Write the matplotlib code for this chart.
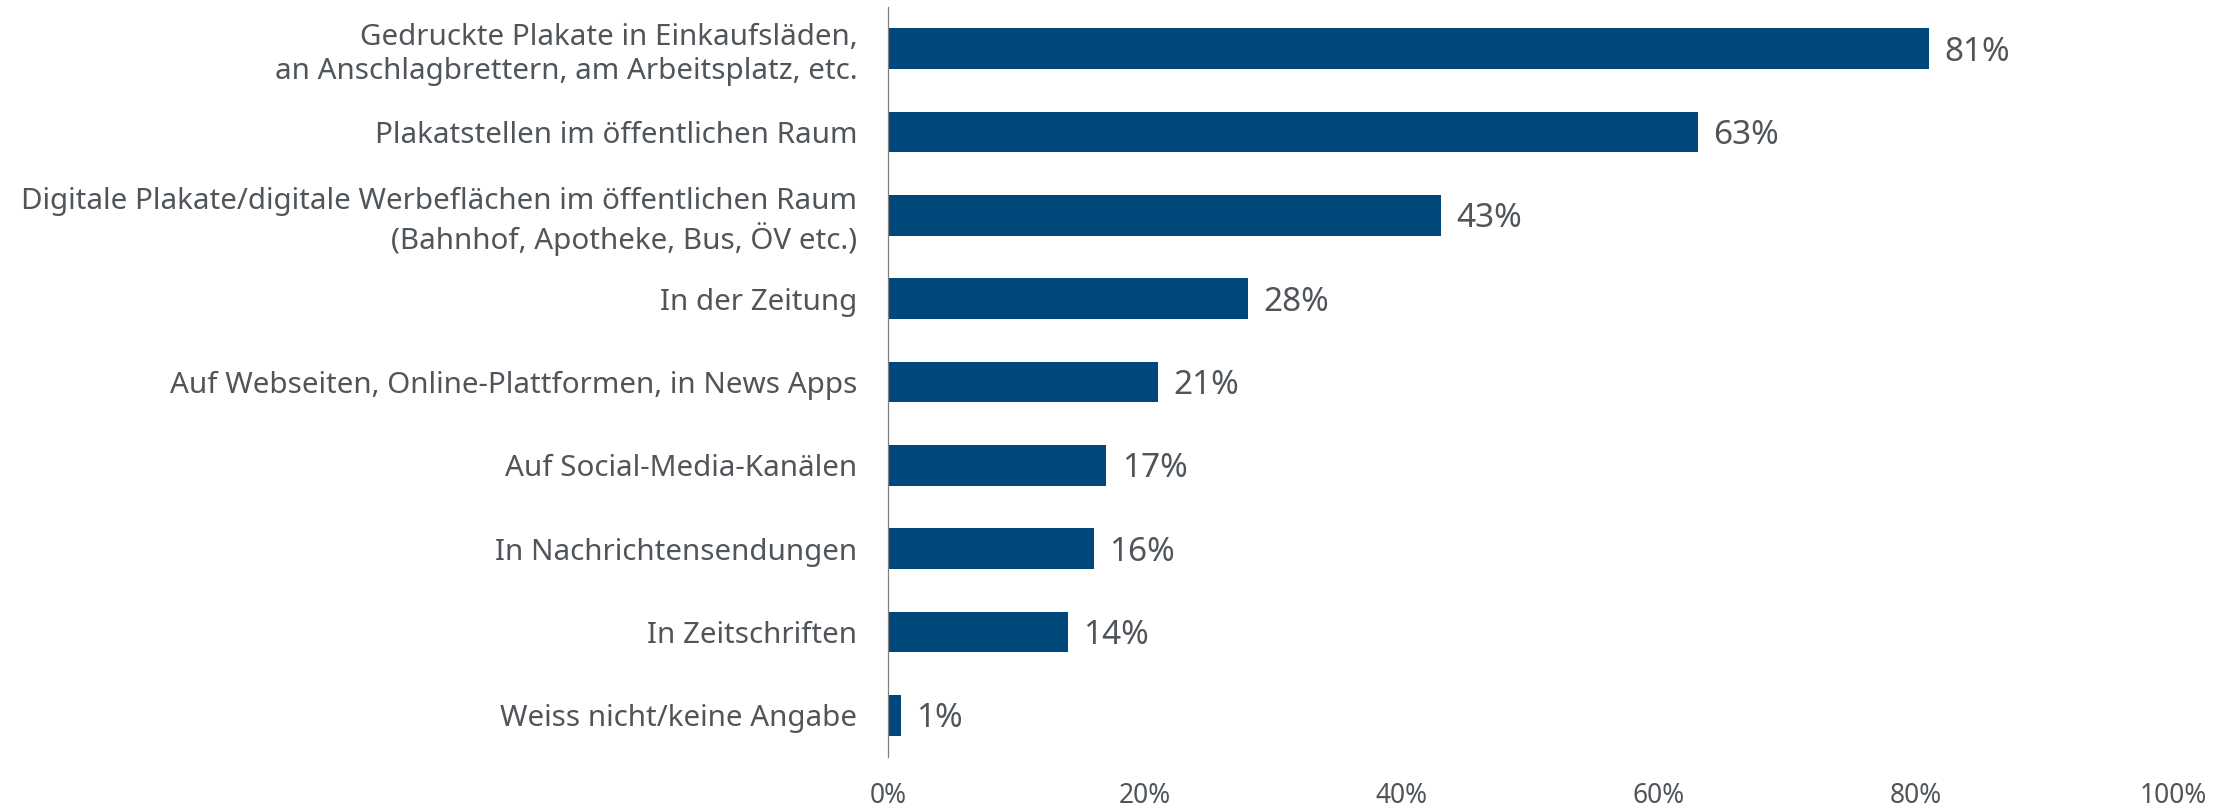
import matplotlib
matplotlib.use("Agg")
import matplotlib.pyplot as plt
import numpy as np

categories = [
    "Gedruckte Plakate in Einkaufsläden,\nan Anschlagbrettern, am Arbeitsplatz, etc.",
    "Plakatstellen im öffentlichen Raum",
    "Digitale Plakate/digitale Werbeflächen im öffentlichen Raum\n(Bahnhof, Apotheke, Bus, ÖV etc.)",
    "In der Zeitung",
    "Auf Webseiten, Online-Plattformen, in News Apps",
    "Auf Social-Media-Kanälen",
    "In Nachrichtensendungen",
    "In Zeitschriften",
    "Weiss nicht/keine Angabe",
]
values = [81, 63, 43, 28, 21, 17, 16, 14, 1]
xticks = [0, 20, 40, 60, 80, 100]
xtick_labels = ["0%", "20%", "40%", "60%", "80%", "100%"]

plt.rcParams['font.family'] = ['Noto Sans', 'DejaVu Sans']
text_color = '#50555a'
bar_color = '#00477b'

fig = plt.figure(figsize=(22.38, 8.06), dpi=100)
ax = fig.add_axes([888/2238, (806-757)/806, (2173-888)/2238, 750/806])

y = np.arange(len(categories))
ax.barh(y, values, height=0.49, color=bar_color)
ax.set_ylim(len(categories) - 0.5, -0.5)
ax.set_xlim(0, 100)

ax.set_yticks(y)
ax.set_yticklabels(categories, fontsize=21.3, color=text_color, linespacing=1.2)
ax.tick_params(axis='y', length=0, pad=22)
ax.set_xticks(xticks)
ax.set_xticklabels(xtick_labels, fontsize=19, color=text_color)
ax.tick_params(axis='x', length=0, pad=18)

for s in ['top', 'right', 'bottom']:
    ax.spines[s].set_visible(False)
ax.spines['left'].set_color('#7f7f7f')
ax.spines['left'].set_linewidth(0.9)

for yi, v in zip(y, values):
    ax.annotate(f"{v}%", xy=(v, yi), xytext=(11, -2.5), textcoords='offset points',
                va='center', ha='left', fontsize=24, color=text_color)

fig.savefig("out.png", dpi=100)
